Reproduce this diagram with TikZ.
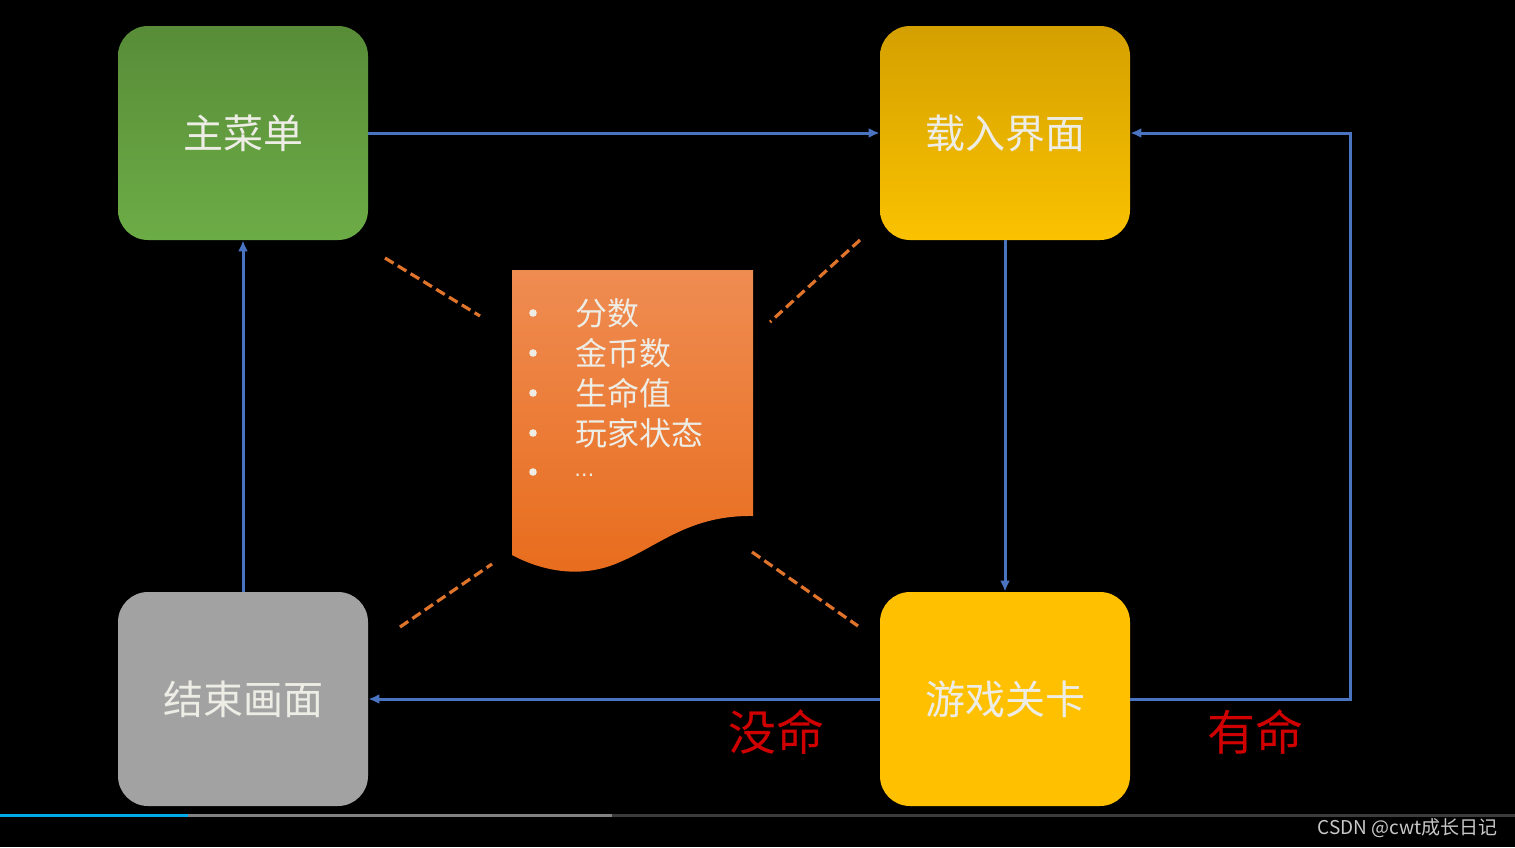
\documentclass[tikz,border=0pt]{standalone}
\usepackage{fontspec}
\setmainfont{Noto Sans CJK SC}
\newfontfamily\cjk{Noto Sans CJK SC}
\newfontfamily\symfont{DejaVu Sans}
\usetikzlibrary{arrows.meta}
\definecolor{flowblue}{HTML}{4A74C0}
\definecolor{dashorange}{HTML}{E0742A}
\definecolor{labelred}{HTML}{D00000}
\definecolor{boxtext}{HTML}{EDEDE6}
\definecolor{greentop}{RGB}{88,140,56}
\definecolor{greenbot}{RGB}{108,172,70}
\definecolor{goldtop}{RGB}{212,160,0}
\definecolor{goldbot}{RGB}{250,194,0}
\definecolor{boxgray}{RGB}{162,162,162}
\definecolor{boxyellow}{RGB}{255,192,0}
\definecolor{doctop}{RGB}{239,140,82}
\definecolor{docbot}{RGB}{232,108,28}
\definecolor{barblue}{RGB}{0,170,235}
\definecolor{bargray}{RGB}{130,130,130}
\definecolor{bardark}{RGB}{60,60,60}
\definecolor{marktext}{RGB}{200,200,200}
\tikzset{
  statebox/.style={rounded corners=15pt, minimum width=125pt, minimum height=107pt,
    inner sep=0pt, text=boxtext, font=\cjk\fontsize{20}{24}\selectfont},
  flow/.style={draw=flowblue, line width=1.5pt, -{Latex[length=5.5pt,width=5pt]}},
  linkdash/.style={draw=dashorange, line width=1.6pt, dash pattern=on 5pt off 2.5pt},
  redlabel/.style={text=labelred, font=\cjk\fontsize{24}{28}\selectfont},
  itemtext/.style={anchor=west, text=boxtext, inner sep=0pt, font=\cjk\fontsize{16}{19}\selectfont},
}
\begin{document}
\begin{tikzpicture}[x=0.5pt, y=-0.5pt]
\fill[black] (0,0) rectangle (1515,847);
\useasboundingbox (0,0) rectangle (1515,847);

% state boxes
\node[statebox, top color=greentop, bottom color=greenbot] (menu) at (243,133) {主菜单};
\node[statebox, top color=goldtop, bottom color=goldbot] (load) at (1005,133) {载入界面};
\node[statebox, fill=boxgray] (over) at (243,699) {结束画面};
\node[statebox, fill=boxyellow] (level) at (1005,699) {游戏关卡};

% document shape
\shade[top color=doctop, bottom color=docbot]
  (512,270) -- (753,270) -- (753,516)
  .. controls (690,515) and (660,545) .. (620,562)
  .. controls (580,580) and (540,570) .. (512,555) -- cycle;
\coordinate (docnw) at (480,316);
\coordinate (docne) at (770,322);
\coordinate (docsw) at (492,564);
\coordinate (docse) at (752,552);

\foreach \y/\t [count=\i] in {313/分数, 353/金币数, 393/生命值, 433/玩家状态}{
  \fill[boxtext] (533,\y) circle (3.8);
  \node[itemtext] (item\i) at (575,\y) {\t};
}
\fill[boxtext] (533,472) circle (3.8);
\node[itemtext, font=\symfont\fontsize{10}{12}\selectfont] (item5) at (574,478) {⋯};

% flows
\draw[flow] (menu.east) -- (load.west);
\draw[flow] (load.south) -- (level.north);
\draw[flow] (level.west) -- (over.east);
\draw[flow] (over.north) -- (menu.south);
\coordinate (rtop) at (1350,133);
\coordinate (rbot) at (1350,699);
\draw[flow] (level.east) -- (rbot) -- (rtop) -- (load.east);

% dashed links
\coordinate (menulink) at (385,258);
\coordinate (loadlink) at (860,240);
\coordinate (overlink) at (400,627);
\coordinate (levellink) at (858,626);
\draw[linkdash] (menulink) -- (docnw);
\draw[linkdash] (loadlink) -- (docne);
\draw[linkdash] (overlink) -- (docsw);
\draw[linkdash] (docse) -- (levellink);

% labels
\node[redlabel] (nolife) at (776,732) {没命};
\node[redlabel] (haslife) at (1255,732) {有命};

% progress bar
\fill[barblue] (0,814) rectangle (188,817);
\fill[bargray] (188,814) rectangle (612,817);
\fill[bardark] (612,814) rectangle (1515,817);

% watermark
\node[anchor=east, text=marktext, inner sep=0pt, font=\cjk\fontsize{9.5}{11}\selectfont] (mark) at (1498,828) {CSDN @cwt成长日记};
\end{tikzpicture}
\end{document}
